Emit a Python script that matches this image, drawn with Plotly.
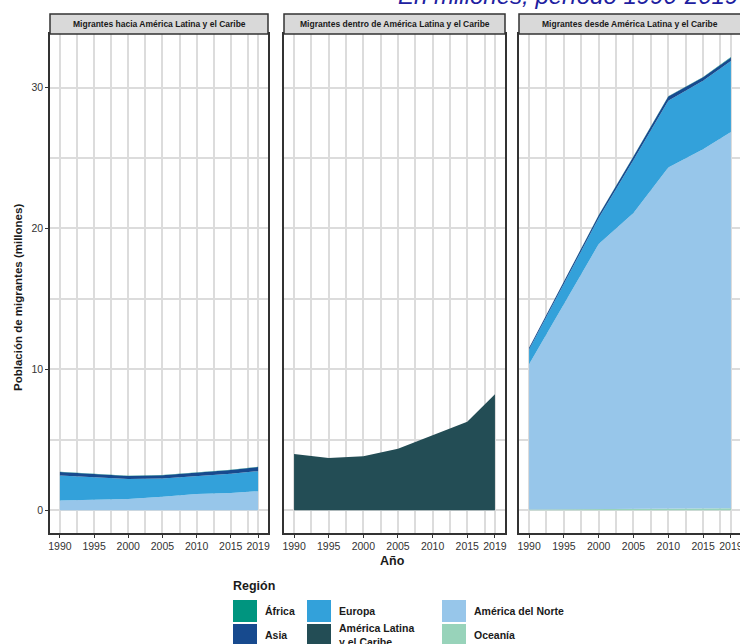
import plotly.graph_objects as go

W, H = 740, 644

years = [1990, 1995, 2000, 2005, 2010, 2015, 2019]

# Regions in stacking order (bottom -> top)
stack_order = ["Oceanía", "América del Norte", "América Latina y el Caribe", "Europa", "Asia", "África"]

colors = {
    "África": "#00957F",
    "Asia": "#174A8E",
    "Europa": "#33A1DA",
    "América Latina y el Caribe": "#234D55",
    "América del Norte": "#97C6EA",
    "Oceanía": "#98D3BA",
}

# Panel 1: migrants towards Latin America and the Caribbean (millions)
hacia_norte = [0.69, 0.72, 0.80, 0.95, 1.15, 1.22, 1.35]
hacia_europa = [1.77, 1.64, 1.42, 1.30, 1.26, 1.36, 1.42]
hacia_asia = [0.24, 0.21, 0.20, 0.22, 0.23, 0.27, 0.29]
hacia_africa = [0.02, 0.02, 0.02, 0.02, 0.02, 0.02, 0.02]
hacia_oceania = [0.01, 0.01, 0.01, 0.01, 0.01, 0.01, 0.01]
hacia_alc = [0, 0, 0, 0, 0, 0, 0]

# Panel 2: migrants within Latin America and the Caribbean
dentro_alc = [4.0, 3.72, 3.83, 4.36, 5.32, 6.28, 8.24]
zeros = [0, 0, 0, 0, 0, 0, 0]

# Panel 3: migrants from Latin America and the Caribbean
desde_norte = [10.3, 14.6, 18.8, 21.0, 24.2, 25.5, 26.7]
desde_europa = [1.05, 1.45, 1.85, 3.75, 4.75, 4.85, 5.05]
desde_asia = [0.12, 0.15, 0.2, 0.25, 0.3, 0.25, 0.25]
desde_oceania = [0.06, 0.07, 0.09, 0.1, 0.12, 0.13, 0.14]
desde_africa = [0.01, 0.01, 0.01, 0.02, 0.02, 0.02, 0.02]

panel_titles = [
    "Migrantes hacia América Latina y el Caribe",
    "Migrantes dentro de América Latina y el Caribe",
    "Migrantes desde América Latina y el Caribe",
]

panels = [
    {"Oceanía": hacia_oceania, "América del Norte": hacia_norte,
     "América Latina y el Caribe": hacia_alc, "Europa": hacia_europa,
     "Asia": hacia_asia, "África": hacia_africa},
    {"Oceanía": zeros, "América del Norte": zeros,
     "América Latina y el Caribe": dentro_alc, "Europa": zeros,
     "Asia": zeros, "África": zeros},
    {"Oceanía": desde_oceania, "América del Norte": desde_norte,
     "América Latina y el Caribe": zeros, "Europa": desde_europa,
     "Asia": desde_asia, "África": desde_africa},
]

x_ticks = [1990, 1995, 2000, 2005, 2010, 2015, 2019]
x_minor = [1992.5, 1997.5, 2002.5, 2007.5, 2012.5, 2017.5]
y_ticks = [0, 10, 20, 30]
y_minor = [5, 15, 25]

legend_cols = [["África", "Asia"], ["Europa", "América Latina y el Caribe"],
               ["América del Norte", "Oceanía"]]
legend_labels = {"América Latina y el Caribe": "América Latina<br>y el Caribe"}


def px(x):
    return x / W


def py(y):
    return 1 - y / H


fig = go.Figure()

panel_px = [(50, 268), (284, 505), (519, 741)]
plot_top, plot_bot = 34, 533
strip_top = 14

for i, data in enumerate(panels):
    xa = "x" if i == 0 else f"x{i+1}"
    ya = "y" if i == 0 else f"y{i+1}"
    for reg in stack_order:
        fig.add_trace(go.Scatter(
            x=years, y=data[reg], mode="lines", stackgroup=f"s{i}",
            line=dict(width=0, color=colors[reg]), fillcolor=colors[reg],
            name=reg, showlegend=False, xaxis=xa, yaxis=ya,
            hoverinfo="x+y+name",
        ))

grid = "#DCDCDC"
tickfont = dict(family="Liberation Sans", size=10.5, color="#333333")

layout = dict(
    width=W, height=H, plot_bgcolor="white", paper_bgcolor="white",
    margin=dict(l=0, r=0, t=0, b=0), showlegend=False,
)

for i, (x0, x1) in enumerate(panel_px):
    xk = "xaxis" if i == 0 else f"xaxis{i+1}"
    yk = "yaxis" if i == 0 else f"yaxis{i+1}"
    dom_end = min(px(x1), 1.0)
    # keep the same year scale for the last panel even if it runs past the page edge
    if i == 2:
        rng = [1988.55, 1988.55 + (2020.45 - 1988.55) * (dom_end * W - x0) / (x1 - x0)]
    else:
        rng = [1988.55, 2020.45]
    layout[xk] = dict(
        domain=[px(x0), dom_end], range=rng, anchor="y" if i == 0 else f"y{i+1}",
        tickmode="array", tickvals=x_ticks, ticktext=[str(t) for t in x_ticks],
        showgrid=True, gridcolor=grid, gridwidth=1.5, zeroline=False,
        minor=dict(tickmode="array", tickvals=x_minor, showgrid=True, gridcolor=grid, gridwidth=1.5),
        ticks="outside", ticklen=3, tickcolor="#333333", tickwidth=1,
        showline=True, mirror=True, linecolor="#333333", linewidth=1.5,
        tickfont=tickfont, automargin=False, ticklabeloverflow="allow",
    )
    layout[yk] = dict(
        domain=[py(plot_bot), py(plot_top)], range=[-1.61, 33.8],
        anchor="x" if i == 0 else f"x{i+1}",
        tickmode="array", tickvals=y_ticks, ticktext=[str(t) for t in y_ticks],
        showticklabels=(i == 0), ticks="outside" if i == 0 else "", ticklen=3,
        tickcolor="#333333", tickwidth=1,
        showgrid=True, gridcolor=grid, gridwidth=1.5, zeroline=False,
        minor=dict(tickmode="array", tickvals=y_minor, showgrid=True, gridcolor=grid, gridwidth=1.5),
        showline=True, mirror=True, linecolor="#333333", linewidth=1.5,
        tickfont=tickfont, automargin=False,
    )

fig.update_layout(**layout)

shapes = []
annotations = []
for (x0, x1), title in zip(panel_px, panel_titles):
    shapes.append(dict(type="rect", xref="paper", yref="paper",
                       x0=px(x0), x1=px(x1), y0=py(plot_top), y1=py(strip_top),
                       fillcolor="#D9D9D9", line=dict(color="#333333", width=1.5)))
    annotations.append(dict(text=f"<b>{title}</b>", xref="paper", yref="paper",
                            x=px((x0 + x1) / 2), y=py((plot_top + strip_top) / 2),
                            showarrow=False, xanchor="center", yanchor="middle",
                            font=dict(family="Liberation Sans", size=8.5, color="#1a1a1a")))

# Axis titles
annotations.append(dict(text="<b>Población de migrantes (millones)</b>", xref="paper", yref="paper",
                        x=px(18), y=py(298), textangle=-90, showarrow=False,
                        xanchor="center", yanchor="middle",
                        font=dict(family="Liberation Sans", size=11.5, color="#1a1a1a")))
annotations.append(dict(text="<b>Año</b>", xref="paper", yref="paper",
                        x=px(392), y=py(561), showarrow=False,
                        xanchor="center", yanchor="middle",
                        font=dict(family="Liberation Sans", size=12.5, color="#1a1a1a")))

# Cropped subtitle at the very top
annotations.append(dict(text="<i>En millones, período 1990-2019</i>", xref="paper", yref="paper",
                        x=px(396), y=py(11), showarrow=False,
                        xanchor="left", yanchor="bottom",
                        font=dict(family="Liberation Sans", size=24, color="#2020A0")))

# Legend (manual)
annotations.append(dict(text="<b>Región</b>", xref="paper", yref="paper",
                        x=px(231), y=py(586), showarrow=False,
                        xanchor="left", yanchor="middle",
                        font=dict(family="Liberation Sans", size=12.5, color="#1a1a1a")))
col_x = [233, 307, 442]
row_y = [600, 624]
for cx, col in zip(col_x, legend_cols):
    for ry, reg in zip(row_y, col):
        shapes.append(dict(type="rect", xref="paper", yref="paper",
                           x0=px(cx), x1=px(cx + 24), y0=py(ry + 22), y1=py(ry),
                           fillcolor=colors[reg], line=dict(width=0)))
        annotations.append(dict(text=f"<b>{legend_labels.get(reg, reg)}</b>",
                                xref="paper", yref="paper",
                                x=px(cx + 30), y=py(ry + 11), showarrow=False,
                                xanchor="left", yanchor="middle", align="left",
                                font=dict(family="Liberation Sans", size=10.5, color="#1a1a1a")))

fig.update_layout(shapes=shapes, annotations=annotations)

fig.write_html("out.html", config={"displayModeBar": False},
               post_script="document.body.style.margin='0';")
